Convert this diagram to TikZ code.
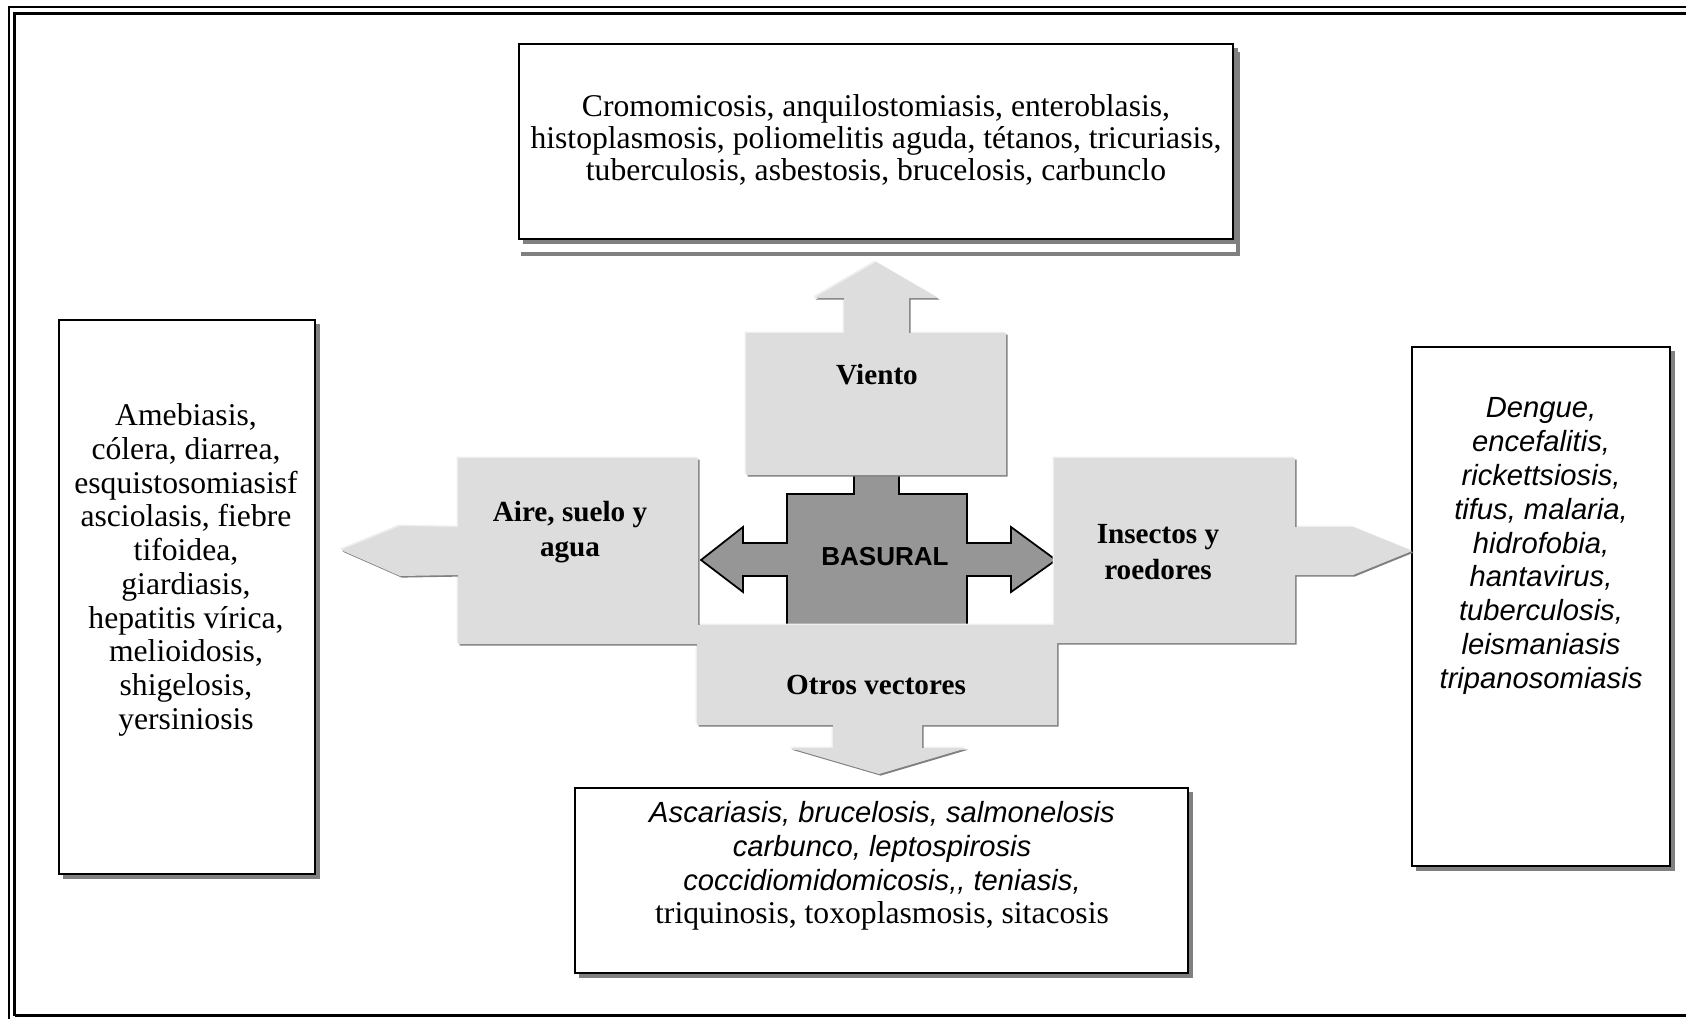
\documentclass[tikz,border=0pt]{standalone}
\usepackage{fontspec}
\setmainfont{Liberation Serif}
\newfontfamily\arialfont{Liberation Sans}
\usetikzlibrary{shadows}
\definecolor{grisclaro}{HTML}{DDDDDD}
\definecolor{grisbrillo}{HTML}{EFEFEF}
\definecolor{grisoscuro}{HTML}{969696}
\definecolor{sombra}{HTML}{808080}

\begin{document}
\begin{tikzpicture}[x=0.01cm,y=-0.01cm,
    caja/.style={draw, line width=0.7pt, fill=white, inner sep=0pt, outer sep=0pt,
      drop shadow={shadow xshift=0.045cm, shadow yshift=-0.045cm, fill=sombra, opacity=1}},
    rotulo/.style={font=\bfseries\fontsize{8.3}{10}\selectfont, align=center},
    lista/.style={font=\fontsize{9}{9.6}\selectfont, align=center},
    listait/.style={font=\arialfont\itshape\fontsize{8.3}{9.6}\selectfont, align=center}]
        \useasboundingbox (0,0) rectangle (1686,1018);
        % marco doble
        \draw[line width=0.65pt] (9.2,1030) -- (9.2,7.2) -- (1700,7.2);
        \draw[line width=0.65pt] (14.5,1015.5) -- (14.5,13.5) -- (1700,13.5);
        \draw[line width=0.65pt] (14.5,1015.5) -- (1700,1015.5);

        % cajas de enfermedades
        \node[caja, minimum width=7.14cm, minimum height=1.95cm] (arriba) at (876,141.5) {};
        \fill[sombra] ([xshift=0.02cm,yshift=-0.13cm]arriba.south west) rectangle ([xshift=0.07cm,yshift=-0.17cm]arriba.south east);
        \fill[sombra] ([xshift=0.03cm,yshift=-0.08cm]arriba.north east) rectangle ([xshift=0.07cm,yshift=-0.17cm]arriba.south east);
        \node[caja, minimum width=2.56cm, minimum height=5.54cm] (izq) at (187,597) {};
        \node[caja, minimum width=2.58cm, minimum height=5.19cm] (der) at (1541,606.5) {};
        \node[caja, minimum width=6.13cm, minimum height=1.85cm] (abajo) at (881.5,880.5) {};

        \node[lista, font=\fontsize{9}{9.2}\selectfont] (arribatxt) at (876,140) {Cromomicosis, anquilostomiasis, enteroblasis,\\histoplasmosis, poliomelitis aguda, tétanos, tricuriasis,\\tuberculosis, asbestosis, brucelosis, carbunclo};
        \node[lista] (izqtxt) at (186,570) {Amebiasis,\\cólera, diarrea,\\esquistosomiasisf\\asciolasis, fiebre\\tifoidea,\\giardiasis,\\hepatitis vírica,\\melioidosis,\\shigelosis,\\yersiniosis};
        \node[listait] (dertxt) at (1541,546) {Dengue,\\encefalitis,\\rickettsiosis,\\tifus, malaria,\\hidrofobia,\\hantavirus,\\tuberculosis,\\leismaniasis\\tripanosomiasis};
        \node[listait] (abajotxt) at (882,866) {Ascariasis, brucelosis, salmonelosis\\carbunco, leptospirosis\\coccidiomidomicosis,, teniasis,\\{\rmfamily\upshape\fontsize{9}{9.6}\selectfont triquinosis, toxoplasmosis, sitacosis}};

        % flecha central oscura
        \draw[fill=grisoscuro, line width=0.5pt] (701,560) -- (743,527) -- (743,543) -- (787,543) -- (787,494) -- (854,494) -- (854,470)
            -- (899,470) -- (899,494) -- (967,494) -- (967,543) -- (1011,543) -- (1011,527) -- (1056,560) -- (1011,592)
            -- (1011,576) -- (967,576) -- (967,630) -- (787,630) -- (787,576) -- (743,576) -- (743,592) -- cycle;

        % flechas claras (brillo, sombra y relleno)
        \foreach \capa/\desp in {grisbrillo/-1.4, sombra/1.6, grisclaro/0} {
            % viento
            \fill[\capa, shift={(\desp,\desp)}] (746,333) -- (844,333) -- (844,298) -- (814,298) -- (876,262) -- (938,298)
                -- (909,298) -- (909,333) -- (1006,333) -- (1006,475) -- (746,475) -- cycle;
            % aire, suelo y agua
            \fill[\capa, shift={(\desp,\desp)}] (458,458) -- (698,458) -- (698,644) -- (458,644) -- (458,575) -- (400,576)
                -- (341,550) -- (400,526) -- (458,527) -- cycle;
            % insectos y roedores
            \fill[\capa, shift={(\desp,\desp)}] (1054,458) -- (1295,458) -- (1295,527) -- (1353,527) -- (1412,551)
                -- (1353,575) -- (1295,575) -- (1295,643) -- (1054,643) -- cycle;
            % otros vectores
            \fill[\capa, shift={(\desp,\desp)}] (697,625) -- (1057,625) -- (1057,725) -- (922,725) -- (922,748) -- (967,748)
                -- (879,774) -- (790,748) -- (833,748) -- (833,725) -- (697,725) -- cycle;
        }

        \node[rotulo] (viento) at (877,375) {Viento};
        \node[rotulo] (aire) at (570,532) {Aire, suelo y\\agua};
        \node[rotulo] (insectos) at (1158,552) {Insectos y\\roedores};
        \node[rotulo] (otros) at (876,685) {Otros vectores};
        \node[font=\arialfont\bfseries\fontsize{7.4}{9}\selectfont] (basural) at (885,557) {BASURAL};
    \end{tikzpicture}
\end{document}
